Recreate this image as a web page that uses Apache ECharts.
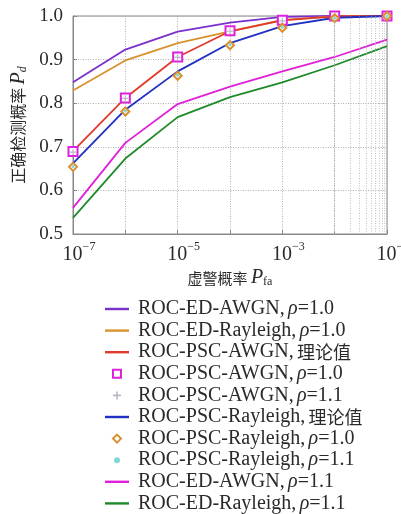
<!DOCTYPE html>
<html>
<head>
<meta charset="utf-8">
<script src="https://cdn.jsdelivr.net/npm/echarts@6/dist/echarts.min.js"></script>
<style>
  html, body { margin: 0; padding: 0; background: #fff; }
  #main { width: 401px; height: 514px; }
</style>
</head>
<body>
<div id="main"></div>
<script>
// 横轴: 虚警概率
const pfa = [1e-7, 1e-6, 1e-5, 1e-4, 1e-3, 1e-2, 1e-1]

// 各条曲线的检测概率
const edAwgn10 = [0.848, 0.923, 0.964, 0.985, 0.998, 1.0, 1.0]
const edRay10 = [0.829, 0.898, 0.938, 0.965, 0.991, 0.999, 1.0]
const pscAwgnTheory = [0.690, 0.812, 0.906, 0.965, 0.990, 0.999, 1.0]
const pscAwgn10 = [0.689, 0.812, 0.906, 0.966, 0.990, 1.0, 1.0]
const pscAwgn11 = [0.688, 0.811, 0.905, 0.965, 0.989, 0.999, 1.0]
const pscRayTheory = [0.662, 0.785, 0.873, 0.938, 0.977, 0.996, 1.0]
const pscRay10 = [0.654, 0.781, 0.863, 0.933, 0.973, 0.995, 1.0]
const pscRay11 = [0.655, 0.782, 0.864, 0.934, 0.974, 0.995, 1.0]
const edAwgn11 = [0.560, 0.709, 0.798, 0.838, 0.873, 0.906, 0.946]
const edRay11 = [0.537, 0.673, 0.768, 0.814, 0.848, 0.887, 0.931]

const yTicks = [0.5, 0.6, 0.7, 0.8, 0.9, 1.0]

let log = console.log.bind(console)
let serif = '"Liberation Serif", "DejaVu Serif", "Noto Sans CJK SC", serif'
let cjk = '"Noto Sans CJK SC", "Noto Sans CJK JP", sans-serif'
let ink = '#2a2a2a'

let pair = function(ys) {
    return pfa.map((x, i) => [x, ys[i]])
}

// 次网格线 2..9 x 10^k
let minorLines = []
for (let e = -7; e < -1; e++) {
    for (let k = 2; k <= 9; k++) {
        minorLines.push({ xAxis: k * Math.pow(10, e) })
    }
}

// 图例图标
let lineIcon = 'path://M0,0H24V2.4H0Z'
let boxIcon = 'path://M0,0H10V10H0Z'
let diamondIcon = 'path://M5,0L10,5L5,10L0,5Z'
let plus = 'path://M4,0H6V4H10V6H6V10H4V6H0V4H4Z'
let legendItems = []

let line = function(name, ys, color) {
    legendItems.push({ name: name, icon: lineIcon })
    return {
        name: name,
        type: 'line',
        data: pair(ys),
        symbol: 'none',
        lineStyle: { color: color, width: 1.8 },
        itemStyle: { color: color },
        z: 3,
    }
}

let dots = function(name, ys, symbol, color, size, border) {
    let item = { name: name, icon: symbol }
    if (symbol === 'emptyRect') {
        item = { name: name, icon: boxIcon, itemStyle: { color: '#fff', borderColor: color, borderWidth: 2 } }
    } else if (symbol === 'emptyDiamond') {
        item = { name: name, icon: diamondIcon, itemStyle: { color: '#fff', borderColor: color, borderWidth: 2 } }
    } else if (symbol === 'circle') {
        item = { name: name, icon: 'circle', itemStyle: { color: color, borderColor: '#fff', borderWidth: 2 } }
    }
    legendItems.push(item)
    return {
        name: name,
        type: 'line',
        data: pair(ys),
        symbol: symbol,
        symbolSize: size,
        showAllSymbol: true,
        lineStyle: { width: 0, opacity: 0 },
        itemStyle: { color: color, borderColor: color, borderWidth: border },
        z: 4,
    }
}

let series = [
    line('ROC-ED-AWGN, ρ=1.0', edAwgn10, '#7a30cc'),
    line('ROC-ED-Rayleigh, ρ=1.0', edRay10, '#d8922e'),
    line('ROC-PSC-AWGN, 理论值', pscAwgnTheory, '#e03a2c'),
    dots('ROC-PSC-AWGN, ρ=1.0', pscAwgn10, 'emptyRect', '#dd22dd', 9, 2),
    dots('ROC-PSC-AWGN, ρ=1.1', pscAwgn11, plus, '#b8b8c8', 6, 0),
    line('ROC-PSC-Rayleigh, 理论值', pscRayTheory, '#2030c0'),
    dots('ROC-PSC-Rayleigh, ρ=1.0', pscRay10, 'emptyDiamond', '#d89030', 8, 1.5),
    dots('ROC-PSC-Rayleigh, ρ=1.1', pscRay11, 'circle', '#7fd8d8', 3, 0),
    line('ROC-ED-AWGN, ρ=1.1', edAwgn11, '#e020d8'),
    line('ROC-ED-Rayleigh, ρ=1.1', edRay11, '#1f8a2a'),
]

// 次网格
series.push({
    name: 'minor',
    type: 'line',
    data: [],
    silent: true,
    markLine: {
        silent: true,
        symbol: 'none',
        label: { show: false },
        lineStyle: { color: '#b4b4b4', type: [1, 1.5], width: 0.8 },
        data: minorLines,
    },
})

let legendFmt = function(name) {
    let parts = name.split(', ')
    if (parts[1].indexOf('ρ') === 0) {
        return `{t|${parts[0]},} {i|ρ}{t|${parts[1].slice(1)}}`
    }
    return `{t|${parts[0]},} {c|${parts[1]}}`
}

let myChart = echarts.init(document.getElementById('main'))
let option = {
    animation: false,
    backgroundColor: '#fff',
    grid: {
        left: 73, right: 14, top: 16, height: 218,
        outerBoundsMode: 'none',
        containLabel: false,
        show: true, borderColor: '#888', borderWidth: 1,
    },
    xAxis: {
        type: 'log',
        logBase: 10,
        min: 1e-7,
        max: 1e-1,
        interval: 1,
        name: '{c|虚警概率} {i|P}{s|fa}',
        nameLocation: 'middle',
        nameGap: 34,
        nameTextStyle: {
            rich: {
                c: { fontFamily: cjk, fontSize: 15, color: ink },
                i: { fontFamily: serif, fontStyle: 'italic', fontSize: 20, color: ink },
                s: { fontFamily: serif, fontSize: 12, color: ink, verticalAlign: 'bottom', lineHeight: 14 },
            },
        },
        axisLine: { show: true, lineStyle: { color: '#888', width: 1 } },
        axisTick: { show: true, inside: true, length: 4, lineStyle: { color: '#888' } },
        splitLine: { show: true, lineStyle: { color: '#b0b0b0', type: [1, 1.5] } },
        axisLabel: {
            margin: 7,
            showMaxLabel: true,
            hideOverlap: false,
            padding: [0, 0, 0, 12],
            formatter: function(v) {
                let e = Math.round(Math.log10(v))
                if (e % 2 === 0) {
                    return ''
                }
                return `{b|10}{e|−${-e}}`
            },
            rich: {
                b: { fontFamily: serif, fontSize: 20, color: ink },
                e: { fontFamily: serif, fontSize: 12, color: ink, verticalAlign: 'top', lineHeight: 28 },
            },
        },
    },
    yAxis: {
        type: 'value',
        min: yTicks[0],
        max: yTicks[yTicks.length - 1],
        interval: 0.1,
        name: '{c|正确检测概率} {i|P}{s|d}',
        nameLocation: 'middle',
        nameGap: 34,
        nameRotate: 90,
        nameTextStyle: {
            rich: {
                c: { fontFamily: cjk, fontSize: 16, color: ink },
                i: { fontFamily: serif, fontStyle: 'italic', fontSize: 20, color: ink },
                s: { fontFamily: serif, fontStyle: 'italic', fontSize: 12, color: ink, verticalAlign: 'bottom', lineHeight: 14 },
            },
        },
        axisLine: { show: true, lineStyle: { color: '#888', width: 1 } },
        axisTick: { show: true, inside: true, length: 4, lineStyle: { color: '#888' } },
        splitLine: { show: true, lineStyle: { color: '#b0b0b0', type: [1, 1.5] } },
        axisLabel: {
            fontFamily: serif,
            fontSize: 19,
            color: ink,
            margin: 10,
            formatter: v => v.toFixed(1),
        },
    },
    legend: {
        orient: 'vertical',
        left: 105,
        top: 299,
        padding: 0,
        height: 215,
        itemWidth: 24,
        itemHeight: 8,
        itemGap: 1.6,
        data: legendItems,
        formatter: legendFmt,
        textStyle: {
            padding: [0, 0, 0, 4],
            rich: {
                t: { fontFamily: serif, fontSize: 20, color: ink, lineHeight: 20 },
                i: { fontFamily: serif, fontStyle: 'italic', fontSize: 20, color: ink, lineHeight: 20 },
                c: { fontFamily: cjk, fontSize: 18, color: ink, lineHeight: 20 },
            },
        },
    },
    series: series,
}
myChart.setOption(option)
</script>
</body>
</html>
